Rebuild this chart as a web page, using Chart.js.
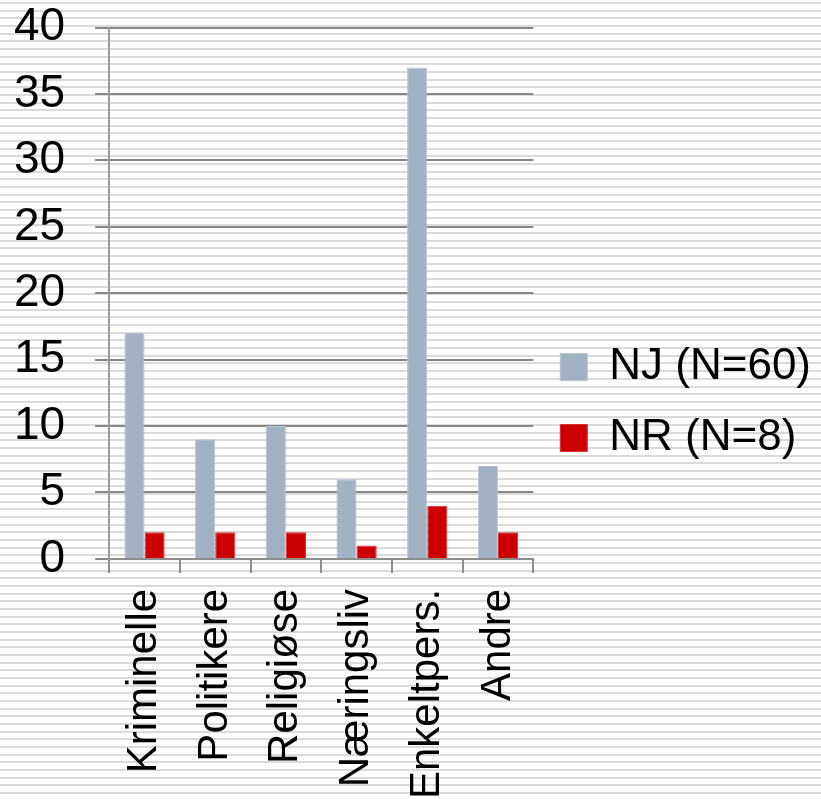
<!DOCTYPE html>
<html>
<head>
<meta charset="utf-8">
<script src="https://cdn.jsdelivr.net/npm/chart.js@4"></script>
<style>
  html, body { margin: 0; padding: 0; }
  body {
    width: 821px;
    height: 799px;
    background: repeating-linear-gradient(to bottom, #fff 0px, #fff 2px, #dadada 2px, #dadada 4px, #fff 4px, #fff 7.67px);
  }
  #wrap { position: relative; width: 821px; height: 799px; }
</style>
</head>
<body>
<div id="wrap"><canvas id="chart"></canvas></div>
<script>
const categories = ["Kriminelle", "Politikere", "Religiøse", "Næringsliv", "Enkeltpers.", "Andre"];
const njValues = [17, 9, 10, 6, 37, 7];
const nrValues = [2, 2, 2, 1, 4, 2];
const seriesNames = ["NJ (N=60)", "NR (N=8)"];

const FONT = "'Liberation Sans', Arial, sans-serif";

Chart.defaults.color = "#000";
Chart.defaults.font.family = FONT;

const ctx = document.getElementById("chart");

// tick padding is counted twice in the axis size, take one off again
function trimPadding(scale) {
  const p = scale.options.ticks.padding;
  if (scale.isHorizontal()) {
    scale.height -= p;
  } else {
    scale.width -= p;
    scale.paddingTop -= p;
    scale.paddingBottom -= p;
  }
}

new Chart(ctx, {
  type: "bar",
  data: {
    labels: categories,
    datasets: [
      {
        label: seriesNames[0],
        data: njValues,
        backgroundColor: "#a2b2c3",
        borderColor: "#b6c3d1",
        borderWidth: 1,
        categoryPercentage: 0.57,
        barPercentage: 1,
      },
      {
        label: seriesNames[1],
        data: nrValues,
        backgroundColor: "#cc0000",
        borderColor: "#d83030",
        borderWidth: 1,
        categoryPercentage: 0.57,
        barPercentage: 1,
      },
    ],
  },
  options: {
    responsive: true,
    maintainAspectRatio: false,
    animation: false,
    layout: {
      padding: { left: 14, top: 6, right: 0, bottom: 0 },
    },
    plugins: {
      tooltip: { enabled: false },
      legend: {
        position: "right",
        align: "center",
        maxWidth: 294,
        labels: {
          boxWidth: 27,
          boxHeight: 27,
          padding: 27,
          color: "#000",
          font: { size: 44 },
        },
      },
    },
    scales: {
      x: {
        afterFit: trimPadding,
        grid: {
          drawOnChartArea: false,
          drawTicks: true,
          tickLength: 14,
          color: "#8c8c8c",
          lineWidth: 2,
        },
        border: { color: "#8c8c8c", width: 2 },
        ticks: {
          minRotation: 90,
          maxRotation: 90,
          autoSkip: false,
          padding: 16,
          font: { size: 42 },
          color: "#000",
        },
      },
      y: {
        min: 0,
        max: 40,
        afterFit: trimPadding,
        grid: {
          color: "#868686",
          lineWidth: 2,
          tickLength: 14,
        },
        border: { color: "#9a9a9a", width: 2 },
        ticks: {
          stepSize: 5,
          autoSkip: false,
          padding: 30,
          font: { size: 46 },
          color: "#000",
        },
      },
    },
  },
});
</script>
</body>
</html>
